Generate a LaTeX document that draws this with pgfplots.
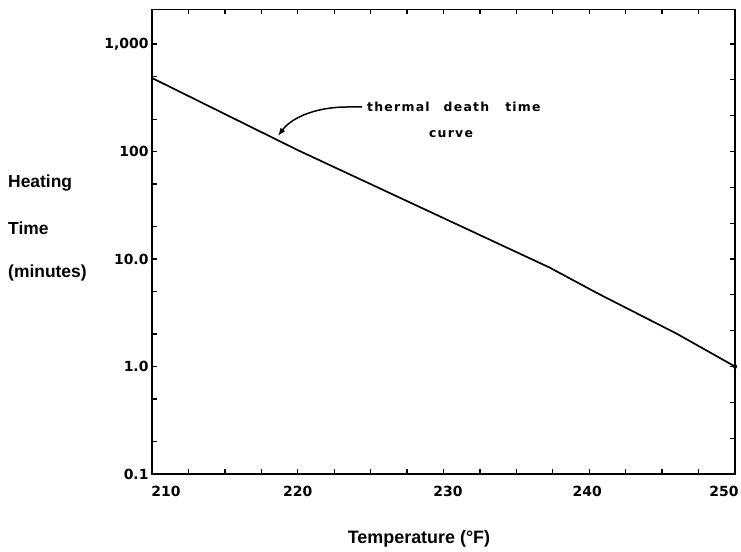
\documentclass[border=0pt]{standalone}
\usepackage{fontspec}
\setmainfont{Liberation Sans}
\newfontfamily\dejavu{DejaVu Sans}
\usepackage{pgfplots}
\pgfplotsset{compat=1.18}
\usetikzlibrary{arrows.meta}
\begin{document}
\begin{tikzpicture}
\begin{axis}[
  at={(0,0)}, anchor=south west,
  scale only axis, width=583bp, height=464.7bp,
  xmin=210, xmax=250, ymode=log, ymin=0.1, ymax=2104,
  axis line style={line width=1.5bp},
  xtick={210,220,230,240,250},
  xticklabels={\hspace*{28bp}210, 220, \hspace*{9bp}230, 240\hspace*{4bp}, 250\hspace*{22bp}},
  minor x tick num=3,
  xtick pos=both,
  tick align=inside,
  major tick length=5bp, minor tick length=5bp,
  every tick/.style={black, line width=1.3bp},
  ytick={0.1,1,10,100,1000},
  yticklabels={0.1,1.0,10.0,100,{1,000}},
  minor ytick={0.2,0.5,2,5,20,50,200,500},
  ytick pos=left,
  tick label style={font=\dejavu\bfseries\fontsize{14}{14}\selectfont},
  xticklabel style={yshift=-9bp},
  /pgf/number format/assume math mode=true,
  clip=false,
]
\addplot[black, line width=1.7bp] coordinates {(210,483) (220,103) (237.3,8.3) (240.5,4.85) (246,2.02) (250,1.0)};
\addplot[black, only marks, mark=*, mark size=2bp] coordinates {(250,1.0)};
\end{axis}
\begin{axis}[
  at={(0,0)}, anchor=south west,
  scale only axis, width=583bp, height=464.7bp,
  xmin=210, xmax=250, ymode=log, ymin=0.1, ymax=2104,
  hide x axis, axis y line*=right,
  axis line style={line width=1.5bp},
  ytick={0.2154,0.4642,1,2.154,4.642,10,21.54,46.42,100,215.4,464.2,1000},
  yticklabels={},
  tick align=inside, major tick length=5bp,
  every tick/.style={black, line width=1.3bp},
]
\addplot[draw=none] coordinates {(210,1) (250,1)};
\end{axis}
% y-axis label lines
\node[anchor=base west, inner sep=0, font=\bfseries\fontsize{17.5}{17.5}\selectfont] at (-144bp,286bp) {Heating};
\node[anchor=base west, inner sep=0, font=\bfseries\fontsize{17.5}{17.5}\selectfont] at (-144bp,239bp) {Time};
\node[anchor=base west, inner sep=0, font=\bfseries\fontsize{17.5}{17.5}\selectfont] at (-144bp,196bp) {(minutes)};
% x-axis label
\node[anchor=base, inner sep=0, font=\bfseries\fontsize{18}{18}\selectfont] at (267bp,-69bp) {Temperature (°F)};
% annotation
\node[anchor=base west, inner sep=0, font=\dejavu\bfseries\fontsize{12.5}{12.5}\selectfont\addfontfeatures{LetterSpace=10}] at (215bp,362bp) {thermal\hspace{14bp}death\hspace{16bp}time};
\node[anchor=base, inner sep=0, font=\dejavu\bfseries\fontsize{12.5}{12.5}\selectfont\addfontfeatures{LetterSpace=10}] at (299bp,336bp) {curve};
\draw[line width=1.5bp, -{Latex[length=8bp,width=6bp]}] (210bp,367bp) -- (195bp,367bp) .. controls (165bp,367bp) and (140bp,357bp) .. (126bp,338bp);
\pgfresetboundingbox
\path (-152bp,-78bp) rectangle (589bp,474bp);
\end{tikzpicture}
\end{document}
